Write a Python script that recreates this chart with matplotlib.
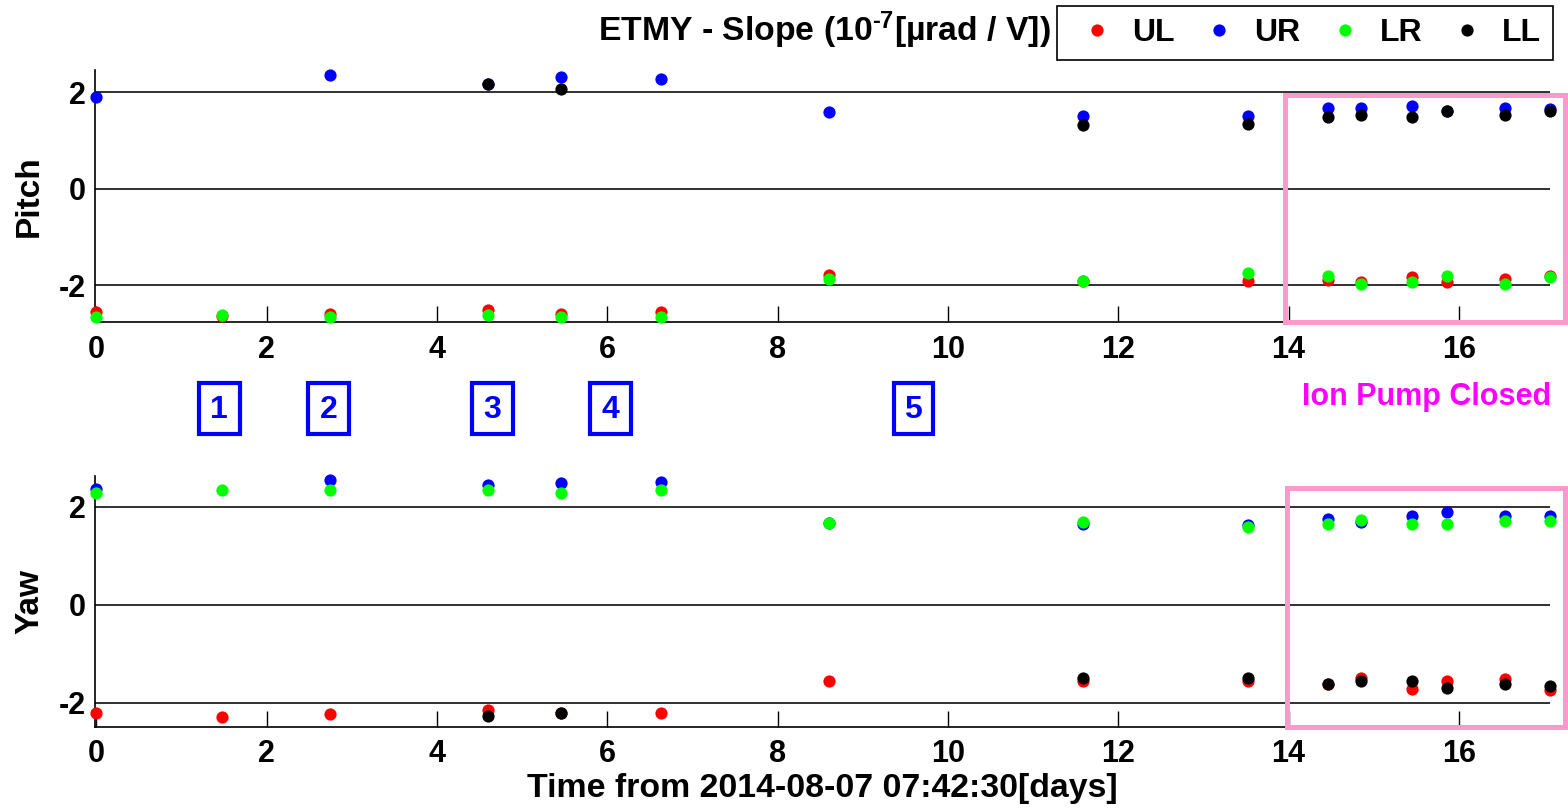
import numpy as np
import matplotlib
matplotlib.use("Agg")
import matplotlib.pyplot as plt
from matplotlib.patches import Rectangle

# ---------------- data ----------------
t_days = [0.00, 1.48, 2.74, 4.60, 5.46, 6.63, 8.60, 11.59, 13.52,
          14.46, 14.85, 15.45, 15.86, 16.54, 17.07]
nan = np.nan
series_names = ["UL", "UR", "LR", "LL"]
series_colors = ["#ff0000", "#0000ff", "#00ff00", "#000000"]

pitch_UL = [-2.56, -2.63, -2.60, -2.51, -2.60, -2.56, -1.79, -1.91, -1.91,
            -1.89, -1.93, -1.84, -1.93, -1.88, -1.80]
pitch_UR = [1.91, nan, 2.36, 2.18, 2.32, 2.27, 1.58, 1.51, 1.50,
            1.67, 1.67, 1.71, 1.61, 1.67, 1.66]
pitch_LR = [-2.66, -2.62, -2.65, -2.62, -2.65, -2.65, -1.88, -1.91, -1.74,
            -1.80, -1.98, -1.93, -1.82, -1.98, -1.84]
pitch_LL = [nan, nan, nan, 2.18, 2.06, nan, nan, 1.33, 1.34,
            1.48, 1.52, 1.49, 1.60, 1.52, 1.62]

yaw_UL = [-2.20, -2.30, -2.24, -2.15, -2.20, -2.20, -1.56, -1.55, -1.55,
          -1.62, -1.50, -1.71, -1.56, -1.52, -1.74]
yaw_UR = [2.355, nan, 2.545, 2.44, 2.49, 2.50, 1.67, 1.64, 1.63,
          1.76, 1.70, 1.81, 1.885, 1.82, 1.81]
yaw_LR = [2.29, 2.34, 2.34, 2.35, 2.29, 2.35, 1.67, 1.69, 1.58,
          1.64, 1.73, 1.64, 1.64, 1.71, 1.71]
yaw_LL = [nan, nan, nan, -2.27, -2.20, nan, nan, -1.50, -1.50,
          -1.62, -1.56, -1.55, -1.69, -1.62, -1.65]

x_ticks = [0, 2, 4, 6, 8, 10, 12, 14, 16]
y_ticks = [-2, 0, 2]
box_labels = ["1", "2", "3", "4", "5"]

title_text = r"ETMY - Slope (10$^{\text{-7}}$[µrad / V])"
xlabel_text = "Time from 2014-08-07 07:42:30[days]"

# ---------------- style ----------------
plt.rcParams["font.family"] = ["Liberation Sans", "DejaVu Sans"]
plt.rcParams["font.weight"] = "bold"
plt.rcParams["axes.unicode_minus"] = False
plt.rcParams["mathtext.fontset"] = "custom"
plt.rcParams["mathtext.rm"] = "Liberation Sans:bold"
plt.rcParams["mathtext.bf"] = "Liberation Sans:bold"
plt.rcParams["mathtext.it"] = "Liberation Sans:bold"

W, H = 1568, 808
fig = plt.figure(figsize=(W / 100, H / 100), dpi=100)


def fx(px):
    return px / W


def fy(py):
    return 1 - py / H


left_px, right_px = 94.5, 1550.0
ax1 = fig.add_axes([fx(left_px), fy(322.3), fx(right_px - left_px), (322.3 - 70) / H])
ax2 = fig.add_axes([fx(left_px), fy(726.7), fx(right_px - left_px), (726.7 - 476) / H])

pitch = [pitch_UL, pitch_UR, pitch_LR, pitch_LL]
yaw = [yaw_UL, yaw_UR, yaw_LR, yaw_LL]

handles = []
for ax, data, ylim, lab in [(ax1, pitch, (-2.77, 2.46), "Pitch"),
                            (ax2, yaw, (-2.49, 2.63), "Yaw")]:
    for name, col, vals in zip(series_names, series_colors, data):
        ln, = ax.plot(t_days, vals, "o", ms=8.8, color=col, mec="none",
                      clip_on=False, zorder=3, label=name)
        if ax is ax1:
            handles.append(ln)
    ax.set_xlim(-0.02, 17.07)
    ax.set_ylim(*ylim)
    ax.set_xticks(x_ticks)
    ax.set_yticks(y_ticks)
    ax.set_yticklabels([str(v) for v in y_ticks])
    ax.yaxis.grid(True, color="#202020", lw=1.3)
    ax.set_axisbelow(True)
    for s in ["top", "right"]:
        ax.spines[s].set_visible(False)
    for s in ["left", "bottom"]:
        ax.spines[s].set_linewidth(1.2)
        ax.spines[s].set_color("black")
    ax.tick_params(axis="x", direction="in", length=11.5, width=1.0,
                   labelsize=22, pad=9)
    ax.tick_params(axis="y", length=0, labelsize=22, pad=6)
    ax.set_ylabel(lab, fontsize=24, fontweight="bold")
    ax.yaxis.set_label_coords(-0.034, 0.5)

ax2.set_xlabel(xlabel_text, fontsize=24.4, fontweight="bold", labelpad=3)

# title text and legend
fig.text(fx(1051), fy(41.5), title_text, fontsize=24.3, fontweight="bold",
         ha="right", va="baseline")
leg = fig.legend(handles=handles, loc="upper right",
                 bbox_to_anchor=(fx(1553.3), fy(5.7)),
                 bbox_transform=fig.transFigure, ncol=4, fontsize=23,
                 frameon=True, fancybox=False, edgecolor="black",
                 framealpha=1, borderpad=0.38, handlelength=1.75,
                 handletextpad=0.225, columnspacing=0.52, borderaxespad=0)
leg.get_frame().set_linewidth(1.2)

# pink "ion pump closed" rectangles (figure pixel coordinates)
pink = "#ff99cc"
for (x0, y0, x1, y1) in [(1284.5, 95.2, 1565, 322), (1287, 488.3, 1565, 726.7)]:
    fig.patches.append(Rectangle((fx(x0), fy(y1)), fx(x1 - x0), (y1 - y0) / H,
                                 transform=fig.transFigure, fill=False,
                                 edgecolor=pink, lw=3.6, zorder=5))
fig.text(fx(1301.7), fy(405), "Ion Pump Closed", color="#ff00ff",
         fontsize=22, fontweight="bold", ha="left", va="baseline")

# blue numbered boxes
box_x = [(196.7, 241.7), (306, 351), (470, 515), (588, 633), (891.7, 935)]
for lab, (x0, x1) in zip(box_labels, box_x):
    y0, y1 = 381, 436
    fig.patches.append(Rectangle((fx(x0 + 2), fy(y1 - 2)), fx(x1 - x0 - 4),
                                 (y1 - y0 - 4) / H, transform=fig.transFigure,
                                 fill=False, edgecolor="#0000ff", lw=3.0))
    fig.text(fx((x0 + x1) / 2), fy(410), lab, color="#0000ff", fontsize=23,
             fontweight="bold", ha="center", va="center")

fig.savefig("out.png", dpi=100)
